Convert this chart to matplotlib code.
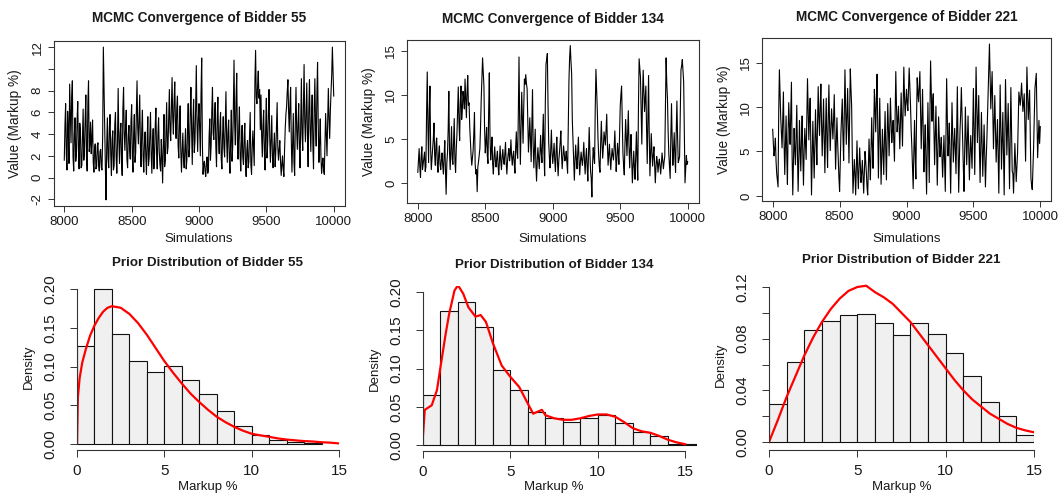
import numpy as np
import matplotlib
matplotlib.use("Agg")
import matplotlib.pyplot as plt

plt.rcParams['font.family'] = ['Liberation Sans', 'DejaVu Sans']

W, H = 1058, 494

# MCMC iterations: draws kept at 8000, 8010, ... and the ones in between (8005, 8015, ...)
iters_a = np.arange(8000, 10001, 10)
iters_b = np.arange(8005, 10000, 10)

trace_55 = [
    1.6, 6.8, 0.7, 4.5, 8.6, 3.2, 8.9, 0.6, 5.5, 2.1, 7.0, 0.8, 4.2, 1.1, 6.3, 2.5, 7.6, 0.6, 8.9, 3.0,
    2.2, 5.3, 0.5, 3.1, 1.0, 3.2, 0.6, 2.6, 0.7, 12.0, 4.5, -2.05, 5.5, 0.9, 5.8, 0.2, 4.3, 1.1, 6.0, 0.4,
    8.2, 1.3, 5.0, 0.2, 8.3, 2.5, 6.2, 0.9, 4.8, 1.7, 6.7, 0.5, 5.8, 2.3, 8.9, 3.1, 7.6, 1.0, 6.2, 0.5,
    4.2, 0.3, 5.6, 1.8, 6.0, 0.4, 4.5, 2.1, 6.4, 0.8, 5.5, 1.2, 3.5, -0.5, 5.8, 1.6, 6.9, 2.8, 8.1, 3.4,
    9.2, 4.0, 8.8, 3.6, 7.5, 1.8, 6.6, 0.5, 4.1, 0.9, 4.5, 1.6, 6.8, 2.7, 8.3, 1.2, 7.2, 3.3, 10.3, 2.4,
    6.8, 2.0, 11.0, 0.3, 1.5, 0.1, 1.9, 0.7, 5.4, 2.9, 8.3, 3.5, 6.9, 1.0, 7.4, 2.2, 6.0, 0.8, 5.6, 1.9,
    7.9, 1.4, 5.3, 0.4, 6.2, 2.8, 10.8, 3.0, 9.6, 1.7, 6.5, 0.6, 4.8, 1.2, 5.0, 0.1, 3.4, 1.5, 6.0, 0.3,
    4.3, 1.1, 11.7, 6.8, 9.8, 8.1, 7.6, 1.9, 6.2, 0.7, 7.3, 3.2, 8.1, 1.4, 5.7, 0.9, 4.1, 2.3, 6.9, 1.6,
    3.4, 0.2, 2.0, 0.1, 4.5, 6.5, 9.0, 4.2, 8.3, 0.5, 5.9, 0.2, 8.3, 2.6, 6.8, 0.9, 9.1, 2.5, 10.4, 3.3,
    8.7, 1.0, 9.0, 2.4, 7.6, 0.8, 9.1, 2.9, 10.6, 1.4, 5.4, 0.4, 1.8, 0.3, 5.9, 2.0, 8.2, 3.6, 7.9, 12.0,
    7.5,
]
trace_55_mid = [
    4.8, 2.2, 6.1, 1.3, 5.7, 7.4, 1.9, 4.0, 1.5, 5.2, 2.6, 5.0, 0.9, 3.8, 1.6, 5.4, 1.9, 6.8, 2.4, 5.1,
    3.6, 1.4, 2.7, 0.8, 2.9, 1.1, 2.4, 0.9, 3.9, 8.2, 1.0, 3.0, 1.8, 4.6, 2.1, 3.5, 0.7, 4.9, 1.9, 3.3,
    3.4, 4.1, 1.5, 6.3, 4.1, 4.6, 1.7, 3.8, 2.6, 5.1, 2.0, 4.1, 1.4, 6.0, 4.7, 5.2, 2.9, 4.4, 2.0, 3.1,
    2.0, 3.3, 1.1, 4.0, 2.2, 3.1, 0.8, 4.7, 2.3, 3.9, 2.4, 0.6, 1.9, 3.1, 1.0, 4.4, 2.2, 5.6, 4.3, 6.3,
    5.5, 6.9, 5.2, 6.4, 2.9, 5.0, 2.4, 2.5, 1.8, 2.7, 0.8, 4.5, 1.9, 5.9, 4.4, 5.0, 2.3, 6.4, 5.1, 5.4,
    4.3, 7.7, 3.1, 1.2, 0.6, 1.3, 0.4, 3.8, 1.6, 6.1, 4.1, 5.5, 2.8, 5.3, 3.5, 4.6, 1.7, 3.9, 2.8, 4.8,
    3.5, 4.2, 1.8, 3.6, 1.5, 6.4, 4.8, 7.2, 3.4, 4.5, 2.2, 3.1, 1.9, 3.6, 1.3, 2.5, 0.9, 3.8, 1.2, 2.8,
    2.6, 8.9, 7.4, 8.5, 7.3, 4.4, 3.8, 4.8, 2.5, 4.6, 1.8, 5.9, 3.7, 3.4, 2.0, 2.8, 1.0, 4.5, 2.8, 2.6,
    1.5, 1.2, 0.8, 2.5, 5.8, 7.9, 6.1, 6.7, 3.5, 3.4, 1.4, 5.1, 4.4, 4.9, 2.8, 5.3, 4.0, 6.8, 5.2, 6.1,
    3.9, 6.2, 4.6, 5.5, 3.1, 6.3, 4.8, 7.6, 4.9, 3.2, 2.0, 1.2, 0.7, 3.0, 3.8, 5.1, 5.5, 6.1, 9.4, 9.8,
]

trace_134 = [
    1.2, 3.9, 0.6, 4.1, 2.2, 3.5, 1.8, 12.6, 2.3, 11.0, 1.5, 3.9, 6.8, 2.0, 5.1, 1.2, 4.2, 1.5, 3.4, 1.0,
    4.8, -1.3, 3.4, 10.4, 1.5, 6.4, 2.1, 7.3, 1.2, 5.5, 10.9, 4.8, 11.0, 8.3, 9.6, 11.8, 7.4, 12.2, 9.1, 4.6,
    2.0, 3.7, 8.0, 1.0, -1.0, 2.4, 3.9, 9.5, 14.2, 11.0, 3.4, 6.3, 2.2, 12.5, 2.6, 5.2, 1.0, 4.1, 1.8, 3.6,
    0.9, 4.2, 1.5, 3.8, 2.1, 4.6, 1.0, 3.3, 2.5, 4.9, 2.0, 3.6, 1.1, 5.8, 2.8, 14.3, 2.1, 10.3, 4.5, 11.8,
    12.3, 10.7, 3.5, 7.4, 2.4, 10.6, 1.7, 6.1, 0.2, 4.0, 1.6, 5.4, 2.3, 7.8, 0.8, 13.5, 14.7, 4.6, 1.7, 6.0,
    2.2, 4.5, 1.3, 5.2, 0.8, 3.5, 5.9, 1.6, 4.2, 2.5, 3.6, 1.1, 11.6, 15.6, 12.4, 4.8, 0.3, 4.3, 1.6, 5.2,
    0.9, 3.5, 2.0, 4.6, 1.0, 3.9, 0.2, 6.3, 1.4, -1.6, 4.0, 2.2, 12.9, 8.3, 3.2, 1.2, 7.0, 2.8, 5.8, 4.3,
    7.8, 2.0, 4.4, 1.5, 3.9, 2.6, 5.9, 1.3, 4.5, 2.1, 8.7, 11.0, 3.4, 0.9, 7.2, 3.1, 8.2, 1.7, 5.5, 0.0,
    3.6, 0.4, 5.8, 0.3, 14.1, 12.0, 4.4, 12.8, 8.1, 11.0, 2.2, 12.2, 0.8, 5.6, 1.9, 4.1, 0.0, 3.0, 1.2, 2.7,
    1.0, 3.4, 1.6, 3.0, 14.2, 9.6, 3.3, 0.5, 9.0, 2.0, 5.7, 1.2, 9.3, 2.3, 3.0, 12.8, 14.0, 11.5, 0.0, 3.1,
    2.4,
]
trace_134_mid = [
    2.5, 1.8, 3.0, 1.5, 2.9, 1.3, 7.8, 6.5, 8.0, 4.0, 2.8, 5.0, 3.1, 4.4, 2.0, 3.3, 2.1, 2.6, 1.9, 3.1,
    1.4, 2.2, 6.0, 3.5, 4.1, 2.7, 4.6, 2.5, 3.8, 8.1, 6.9, 9.2, 7.2, 10.4, 8.4, 9.5, 10.3, 8.8, 6.3, 3.1,
    2.9, 5.6, 2.2, 1.5, 1.8, 3.1, 6.4, 12.0, 12.6, 6.1, 4.7, 3.1, 8.0, 5.3, 3.7, 2.1, 3.0, 2.5, 2.9, 1.9,
    2.6, 2.4, 3.0, 2.6, 3.4, 2.3, 2.5, 3.9, 3.2, 3.1, 3.0, 2.1, 3.9, 3.5, 7.9, 6.8, 6.2, 7.5, 8.6, 11.2,
    11.3, 6.9, 5.2, 4.9, 6.3, 4.2, 3.8, 2.1, 2.5, 2.7, 3.3, 3.4, 4.9, 3.5, 9.2, 14.0, 8.9, 2.9, 3.9, 3.3,
    3.3, 2.5, 3.6, 2.4, 2.6, 4.6, 3.2, 3.0, 3.4, 2.8, 2.2, 6.2, 14.2, 13.8, 7.1, 2.2, 2.6, 2.7, 3.5, 2.4,
    2.4, 2.6, 3.1, 2.5, 2.8, 1.8, 3.5, 3.6, 0.5, 2.1, 3.0, 8.6, 10.5, 5.2, 1.9, 4.5, 4.6, 4.1, 5.0, 6.1,
    4.4, 3.3, 2.8, 2.9, 3.1, 4.0, 3.4, 2.7, 3.5, 5.5, 10.0, 6.9, 2.0, 4.4, 5.0, 5.6, 4.2, 3.8, 2.6, 1.9,
    1.8, 3.0, 2.6, 8.6, 13.0, 8.0, 9.5, 10.3, 9.6, 6.2, 7.0, 5.4, 3.4, 3.5, 3.2, 2.1, 1.8, 2.4, 2.2, 1.8,
    2.3, 2.5, 2.4, 9.1, 11.3, 5.8, 1.8, 5.3, 4.9, 3.7, 3.0, 5.8, 5.2, 2.6, 8.1, 13.3, 12.7, 6.0, 1.5, 2.1,
]

trace_221 = [
    7.5, 4.5, 6.5, 2.5, 1.0, 14.2, 8.8, 5.4, 11.7, 2.4, 9.0, 1.3, 10.5, 5.8, 12.8, 0.1, 7.6, 3.5, 10.2, 0.5,
    8.5, 2.8, 9.0, 1.2, 7.6, 4.1, 13.2, 6.3, 11.0, 0.1, 8.4, 2.0, 9.7, 3.5, 12.3, 6.8, 12.6, 4.5, 10.9, 2.6,
    11.0, 3.2, 12.5, 5.1, 9.8, 6.4, 11.4, 3.0, 8.8, 4.1, 0.5, 7.1, 10.9, 4.0, 14.2, 5.8, 12.1, 3.7, 14.3, 10.1,
    0.3, 4.1, 0.1, 6.2, 0.8, 5.4, 1.5, 4.0, 0.3, 5.0, 2.6, 0.1, 6.4, 1.8, 8.8, 3.1, 12.0, 7.2, 13.7, 2.0,
    11.0, 1.3, 7.5, 2.4, 9.5, 1.8, 10.4, 4.5, 11.0, 6.0, 8.5, 3.9, 14.0, 7.2, 10.1, 5.3, 11.6, 5.6, 14.5, 9.0,
    12.0, 9.6, 14.4, 10.2, 5.5, 0.8, 8.5, 1.9, 13.3, 10.6, 14.0, 5.3, 12.0, 2.7, 8.0, 0.2, 10.5, 1.5, 15.2, 8.4,
    11.5, 3.5, 10.1, 1.2, 8.9, 4.4, 6.6, 2.1, 6.8, 0.5, 13.2, 4.5, 8.2, 0.3, 10.5, 3.8, 7.6, 2.5, 12.3, 0.4,
    7.4, 12.2, 6.0, 0.5, 10.0, 3.5, 9.0, 1.8, 6.8, 3.1, 12.1, 2.4, 14.5, 6.0, 11.3, 1.5, 9.4, 2.2, 8.0, 1.0,
    6.0, 11.8, 17.1, 9.8, 14.0, 5.3, 11.3, 3.8, 8.6, 0.3, 12.5, 3.0, 9.4, 0.1, 13.1, 4.6, 10.4, 0.8, 12.2, 2.8,
    0.3, 5.9, 1.6, 4.8, 11.7, 10.2, 12.7, 9.5, 11.5, 3.9, 14.5, 8.6, 11.9, 2.0, 0.7, 5.5, 12.1, 13.8, 4.3, 8.5,
    7.8,
]
trace_221_mid = [
    5.8, 5.3, 3.9, 1.8, 9.5, 11.3, 7.0, 8.6, 6.1, 5.5, 4.8, 7.2, 7.9, 9.6, 4.5, 3.9, 5.2, 7.1, 4.8, 4.0,
    5.2, 6.3, 4.6, 5.1, 5.7, 9.0, 9.5, 8.9, 5.2, 4.0, 5.1, 6.1, 6.3, 8.2, 9.0, 10.0, 8.1, 7.9, 6.3, 7.5,
    6.4, 8.7, 8.1, 7.4, 8.2, 8.6, 6.9, 5.8, 6.2, 2.0, 3.6, 9.0, 6.8, 9.4, 9.7, 9.0, 7.6, 9.1, 12.0, 4.5,
    2.1, 2.5, 3.2, 3.0, 3.1, 3.3, 2.6, 2.2, 2.8, 3.9, 1.0, 3.4, 3.8, 5.6, 5.5, 7.6, 9.8, 10.9, 8.2, 6.4,
    5.8, 4.4, 4.9, 6.3, 5.2, 6.7, 7.3, 8.0, 8.2, 7.4, 6.1, 9.2, 10.2, 8.5, 7.6, 8.4, 8.7, 10.0, 11.2, 10.6,
    10.5, 11.9, 12.3, 7.4, 3.1, 5.0, 4.5, 8.7, 11.7, 12.3, 9.5, 8.9, 7.1, 5.6, 3.8, 5.2, 5.8, 9.2, 11.5, 10.4,
    7.2, 7.0, 5.3, 5.1, 6.5, 5.4, 4.2, 4.3, 3.5, 7.2, 8.5, 6.2, 3.9, 5.8, 6.9, 5.6, 5.0, 7.4, 5.8, 3.9,
    9.3, 9.0, 3.1, 5.3, 6.8, 6.2, 5.1, 4.6, 4.9, 7.8, 7.2, 8.6, 10.1, 8.6, 5.4, 5.6, 5.5, 5.1, 4.4, 3.9,
    8.7, 14.2, 13.4, 11.9, 9.5, 8.2, 7.5, 6.1, 4.5, 6.4, 7.5, 6.1, 4.8, 7.0, 8.6, 7.5, 5.3, 6.6, 7.4, 2.5,
    3.1, 3.8, 3.1, 8.1, 11.0, 11.3, 11.1, 10.5, 7.7, 9.3, 11.6, 10.2, 6.9, 1.2, 3.1, 8.8, 12.9, 9.1, 6.3, 5.9,
]

# histogram densities (bins of width 1 starting at 0)
hist_55 = [0.127, 0.200, 0.142, 0.107, 0.093, 0.101, 0.082, 0.064, 0.042, 0.023, 0.011, 0.005, 0.002, 0.001]
hist_134 = [0.066, 0.175, 0.187, 0.154, 0.098, 0.072, 0.043, 0.036, 0.030, 0.036, 0.039, 0.029,
            0.017, 0.012, 0.002, 0.001]
hist_221 = [0.0295, 0.062, 0.087, 0.094, 0.098, 0.099, 0.092, 0.083, 0.092, 0.084, 0.069, 0.051,
            0.031, 0.020, 0.0054]

# prior density curves
dens_x_55 = [0, 0.05, 0.15, 0.3, 0.5, 0.75, 1, 1.25, 1.5, 1.75, 2, 2.5, 3, 3.5, 4, 4.5, 5, 5.5, 6,
             6.5, 7, 7.5, 8, 8.5, 9, 9.5, 10, 10.5, 11, 11.5, 12, 12.5, 13, 13.5, 14, 14.5, 15]
dens_y_55 = [0.0, 0.06, 0.085, 0.105, 0.122, 0.140, 0.153, 0.163, 0.171, 0.176, 0.178, 0.176, 0.168,
             0.156, 0.141, 0.124, 0.107, 0.092, 0.078, 0.065, 0.054, 0.044, 0.035, 0.028, 0.022,
             0.017, 0.013, 0.011, 0.009, 0.007, 0.0055, 0.0045, 0.0035, 0.003, 0.002, 0.0015, 0.0005]

dens_x_134 = [0, 0.1, 0.5, 0.8, 1, 1.3, 1.5, 1.8, 2, 2.3, 2.6, 3, 3.3, 3.6, 4, 4.5, 5, 5.5, 6, 6.3,
              6.5, 6.8, 7, 7.5, 8, 8.5, 9, 9.5, 10, 10.5, 11, 11.5, 12, 12.5, 13, 13.5, 14, 14.5, 15]
dens_y_134 = [0.013, 0.046, 0.052, 0.072, 0.102, 0.146, 0.172, 0.202, 0.209, 0.198, 0.180, 0.168,
              0.170, 0.161, 0.133, 0.104, 0.089, 0.076, 0.054, 0.041, 0.043, 0.046, 0.039, 0.035,
              0.033, 0.033, 0.035, 0.038, 0.040, 0.040, 0.037, 0.030, 0.022, 0.018, 0.016, 0.012,
              0.007, 0.0035, 0.001]

dens_x_221 = [0, 0.5, 1, 1.5, 2, 2.5, 3, 3.5, 4, 4.5, 5, 5.5, 6, 6.5, 7, 7.5, 8, 8.5, 9, 9.5, 10,
              10.5, 11, 11.5, 12, 12.5, 13, 13.5, 14, 14.5, 15]
dens_y_221 = [0.0, 0.017, 0.035, 0.051, 0.067, 0.081, 0.093, 0.103, 0.111, 0.117, 0.120, 0.121,
              0.116, 0.112, 0.107, 0.100, 0.093, 0.084, 0.075, 0.066, 0.057, 0.048, 0.040, 0.033,
              0.0275, 0.022, 0.018, 0.014, 0.011, 0.009, 0.0075]

bidders = ["55", "134", "221"]
traces = [(trace_55, trace_55_mid), (trace_134, trace_134_mid), (trace_221, trace_221_mid)]
hists = [hist_55, hist_134, hist_221]
dens_x = [dens_x_55, dens_x_134, dens_x_221]
dens_y = [dens_y_55, dens_y_134, dens_y_221]

fig = plt.figure(figsize=(W / 100, H / 100), dpi=100)
TXT = '#1a1a1a'


def px_axes(l, t, r, b):
    return fig.add_axes([l / W, 1 - b / H, (r - l) / W, (b - t) / H])


def ftext(x, y, s, **kw):
    fig.text(x / W, 1 - y / H, s, ha='center', va='center', color=TXT, **kw)


def merge(a, b):
    # put both sets of draws back in iteration order
    x = np.concatenate([iters_a, iters_b])
    y = np.concatenate([a, b])
    order = np.argsort(x)
    return x[order], y[order]


# top row: trace plots
top_boxes = [(53.5, 41, 344.5, 206), (407, 39.5, 698.5, 203), (762, 38, 1051, 201)]
top_yticks = [[-2, 0, 2, 4, 6, 8, 10, 12], [0, 5, 10, 15], [0, 5, 10, 15]]
top_title_y = [18, 19, 17]

for i in range(3):
    l, t, r, b = top_boxes[i]
    ax = px_axes(l, t, r, b)
    x, y = merge(*traces[i])
    ax.plot(x, y, color='black', lw=0.8)
    ax.margins(x=0.04, y=0.04)
    ax.set_xticks([8000, 8500, 9000, 9500, 10000])
    ticks = top_yticks[i]
    ax.set_yticks(ticks)
    ax.set_yticklabels(['' if v == 10 and i == 0 else str(v) for v in ticks])
    ax.tick_params(axis='both', labelsize=9.5, length=4, width=0.7, pad=3, colors='#333333',
                   labelcolor=TXT)
    ax.tick_params(axis='y', labelrotation=90)
    for lab in ax.get_yticklabels():
        lab.set_va('center')
    for s in ax.spines.values():
        s.set_linewidth(0.8)
        s.set_color('#333333')
    ftext((l + r) / 2, top_title_y[i], "MCMC Convergence of Bidder " + bidders[i],
          fontsize=9.8, fontweight='bold')
    ftext((l + r) / 2, 239, "Simulations", fontsize=9.5)
    ftext(l - 38, (t + b) / 2, "Value (Markup %)", fontsize=9.8, rotation=90)

# bottom row: prior histograms with density
bot_boxes = [(77, 283, 339, 450), (423, 286, 697, 451), (769, 279, 1034, 450)]
bot_xlim = [(0, 15), (0, 15.67), (0, 15)]
bot_ylim = [(-0.008, 0.208), (-0.0078, 0.208), (-0.0062, 0.1262)]
bot_yticks = [[0, 0.05, 0.10, 0.15, 0.20], [0, 0.05, 0.10, 0.15, 0.20],
              [0, 0.02, 0.04, 0.06, 0.08, 0.10, 0.12]]
bot_title_y = [263, 265, 260]

for i in range(3):
    l, t, r, b = bot_boxes[i]
    ax = px_axes(l, t, r, b)
    h = hists[i]
    edges = np.arange(len(h) + 1)
    ax.bar(edges[:-1], h, width=1, align='edge', color='#f0f0f0', edgecolor='#111111', lw=0.8)
    ax.plot(dens_x[i], dens_y[i], color='red', lw=1.6)
    ax.set_xlim(*bot_xlim[i])
    ax.set_ylim(*bot_ylim[i])
    ax.set_xticks([0, 5, 10, 15])
    yt = bot_yticks[i]
    ax.set_yticks(yt)
    if i == 2:
        ax.set_yticklabels([f"{v:.2f}" if k % 2 == 0 else '' for k, v in enumerate(yt)])
    else:
        ax.set_yticklabels([f"{v:.2f}" for v in yt])
    ax.spines['top'].set_visible(False)
    ax.spines['right'].set_visible(False)
    ax.spines['left'].set_bounds(yt[0], yt[-1])
    ax.spines['bottom'].set_bounds(0, 15)
    for s in ('left', 'bottom'):
        ax.spines[s].set_linewidth(0.8)
        ax.spines[s].set_color('#333333')
    ax.tick_params(axis='both', labelsize=11, length=5, width=0.7, colors='#333333',
                   labelcolor=TXT)
    ax.tick_params(axis='x', pad=5)
    ax.tick_params(axis='y', labelrotation=90, pad=9)
    for lab in ax.get_yticklabels():
        lab.set_va('center')
    cx = (l + r) / 2 if i != 1 else (l + 685) / 2
    ftext(cx, bot_title_y[i], "Prior Distribution of Bidder " + bidders[i],
          fontsize=9.6, fontweight='bold')
    ftext(cx, 487, "Markup %", fontsize=9.5)
    ftext(l - 48, (t + b) / 2, "Density", fontsize=9.5, rotation=90)

fig.savefig("out.png", dpi=100)
